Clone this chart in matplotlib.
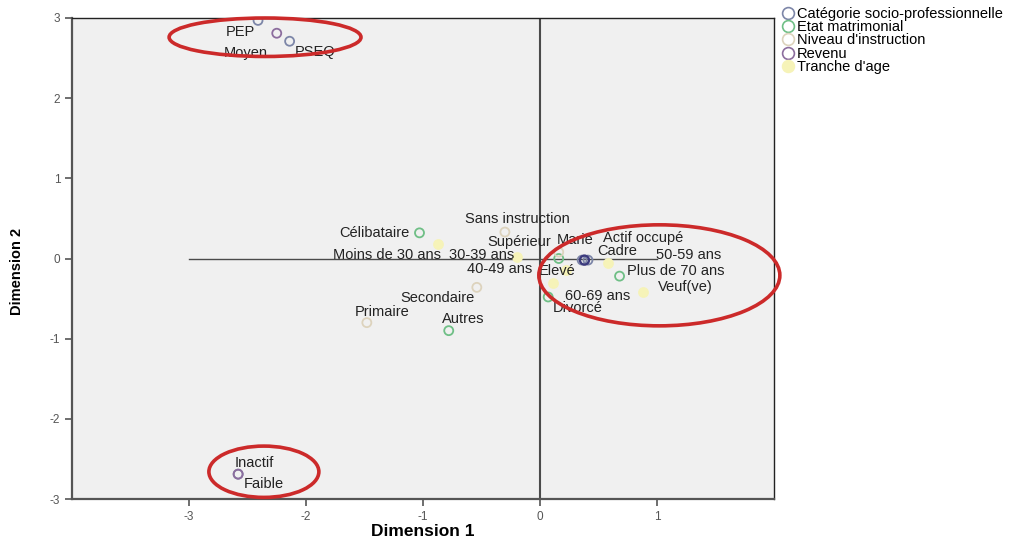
import matplotlib.pyplot as plt
from matplotlib.patches import Ellipse
from matplotlib.lines import Line2D

plt.rcParams['font.family'] = ['Liberation Sans', 'DejaVu Sans']
plt.rcParams['axes.unicode_minus'] = False

# coordonnees des modalites (dimension 1, dimension 2)
csp_names = ['Inactif', 'PEP', 'PSEQ', 'Actif occupé', 'Cadre']
csp_x = [-2.58, -2.41, -2.14, 0.41, 0.36]
csp_y = [-2.69, 2.97, 2.71, -0.02, -0.02]

mat_names = ['Célibataire', 'Marié', 'Divorcé', 'Veuf(ve)', 'Autres']
mat_x = [-1.03, 0.16, 0.07, 0.68, -0.78]
mat_y = [0.32, 0.00, -0.48, -0.22, -0.90]

ins_names = ['Sans instruction', 'Supérieur', 'Secondaire', 'Primaire']
ins_x = [-0.30, 0.16, -0.54, -1.48]
ins_y = [0.33, 0.08, -0.36, -0.80]

rev_names = ['Faible', 'Moyen', 'Elevé']
rev_x = [-2.58, -2.25, 0.38]
rev_y = [-2.69, 2.81, -0.02]

age_names = ['Moins de 30 ans', '30-39 ans', '40-49 ans', '50-59 ans', '60-69 ans', 'Plus de 70 ans']
age_x = [-0.87, -0.20, 0.22, 0.58, 0.11, 0.88]
age_y = [0.18, 0.02, -0.14, -0.06, -0.31, -0.42]

# position des etiquettes (bord gauche, centre vertical) en coordonnees des axes
label_pos = {
    'PEP': (-2.69, 2.83), 'Moyen': (-2.70, 2.56), 'PSEQ': (-2.10, 2.58),
    'Inactif': (-2.61, -2.55), 'Faible': (-2.53, -2.81),
    'Célibataire': (-1.72, 0.32), 'Sans instruction': (-0.64, 0.49),
    'Supérieur': (-0.45, 0.21), 'Moins de 30 ans': (-1.77, 0.04),
    '30-39 ans': (-0.78, 0.04), '40-49 ans': (-0.62, -0.13),
    'Secondaire': (-1.19, -0.49), 'Primaire': (-1.58, -0.67),
    'Autres': (-0.84, -0.75), 'Marié': (0.14, 0.23), 'Actif occupé': (0.54, 0.25),
    'Cadre': (0.49, 0.09), '50-59 ans': (0.99, 0.04), 'Elevé': (-0.01, -0.16),
    'Plus de 70 ans': (0.74, -0.16), 'Veuf(ve)': (1.01, -0.35),
    '60-69 ans': (0.21, -0.47), 'Divorcé': (0.11, -0.62),
}

series = [
    ("Catégorie socio-professionnelle", csp_names, csp_x, csp_y, 'none', '#7d86a8'),
    ("Etat matrimonial", mat_names, mat_x, mat_y, 'none', '#6fbf86'),
    ("Niveau d'instruction", ins_names, ins_x, ins_y, 'none', '#ddd3bd'),
    ("Revenu", rev_names, rev_x, rev_y, 'none', '#8c6d9e'),
    ("Tranche d'age", age_names, age_x, age_y, '#f6f3b8', '#f6f3b8'),
]

fig = plt.figure(figsize=(10.24, 5.43), dpi=100)
ax = fig.add_axes([72 / 1024, 1 - 499 / 543, (774 - 72) / 1024, (499 - 18) / 543])
ax.set_facecolor('#f0f0f0')

# lignes de reference
ax.plot([-3, 1], [0, 0], color='#4a4a4a', lw=1.0, zorder=1)
ax.axvline(0, color='#4a4a4a', lw=1.5, zorder=1)

handles = []
for name, labs, xs, ys, fc, ec in series:
    ax.scatter(xs, ys, s=42, facecolors=fc, edgecolors=ec, linewidths=1.3, zorder=3)
    handles.append(Line2D([], [], ls='', marker='o', markersize=8.5, markerfacecolor=fc,
                          markeredgecolor=ec, markeredgewidth=1.2, label=name))
    for lab in labs:
        lx, ly = label_pos[lab]
        ax.text(lx, ly, lab, fontsize=10.5, ha='left', va='center', color='#222222', zorder=4)
# Elevé est superpose aux points de la CSP
ax.scatter([rev_x[2]], [rev_y[2]], s=42, facecolors='none', edgecolors='#3b3b7e',
           linewidths=1.6, zorder=3)

# ellipses rouges
for cx, cy, w, h in [(-2.35, 2.76, 1.64, 0.48), (1.02, -0.21, 2.06, 1.26), (-2.36, -2.66, 0.94, 0.64)]:
    ax.add_patch(Ellipse((cx, cy), w, h, fill=False, ec='#cc2a2a', lw=2.6,
                         clip_on=False, zorder=5))

ax.set_xlim(-4, 2)
ax.set_ylim(-3, 3)
ax.set_xticks([-3, -2, -1, 0, 1])
ax.set_yticks([-3, -2, -1, 0, 1, 2, 3])
ax.tick_params(direction='out', length=5, width=1.2, colors='#555555', labelsize=8.5)
for side in ['left', 'bottom']:
    ax.spines[side].set_color('#555555')
    ax.spines[side].set_linewidth(1.6)
for side in ['top', 'right']:
    ax.spines[side].set_color('#222222')
    ax.spines[side].set_linewidth(1.0)

ax.set_xlabel('Dimension 1', fontsize=12.5, fontweight='bold', labelpad=1)
ax.set_ylabel('Dimension 2', fontsize=10.5, fontweight='bold')
ax.yaxis.set_label_coords(-0.068, 0.474)

fig.legend(handles=handles, loc='upper left', bbox_to_anchor=(774 / 1024, 1 - 1 / 543),
           frameon=False, fontsize=10.5, handletextpad=0.05, labelspacing=-0.05,
           borderaxespad=0, handlelength=1.1)

fig.savefig('out.png', dpi=100)
